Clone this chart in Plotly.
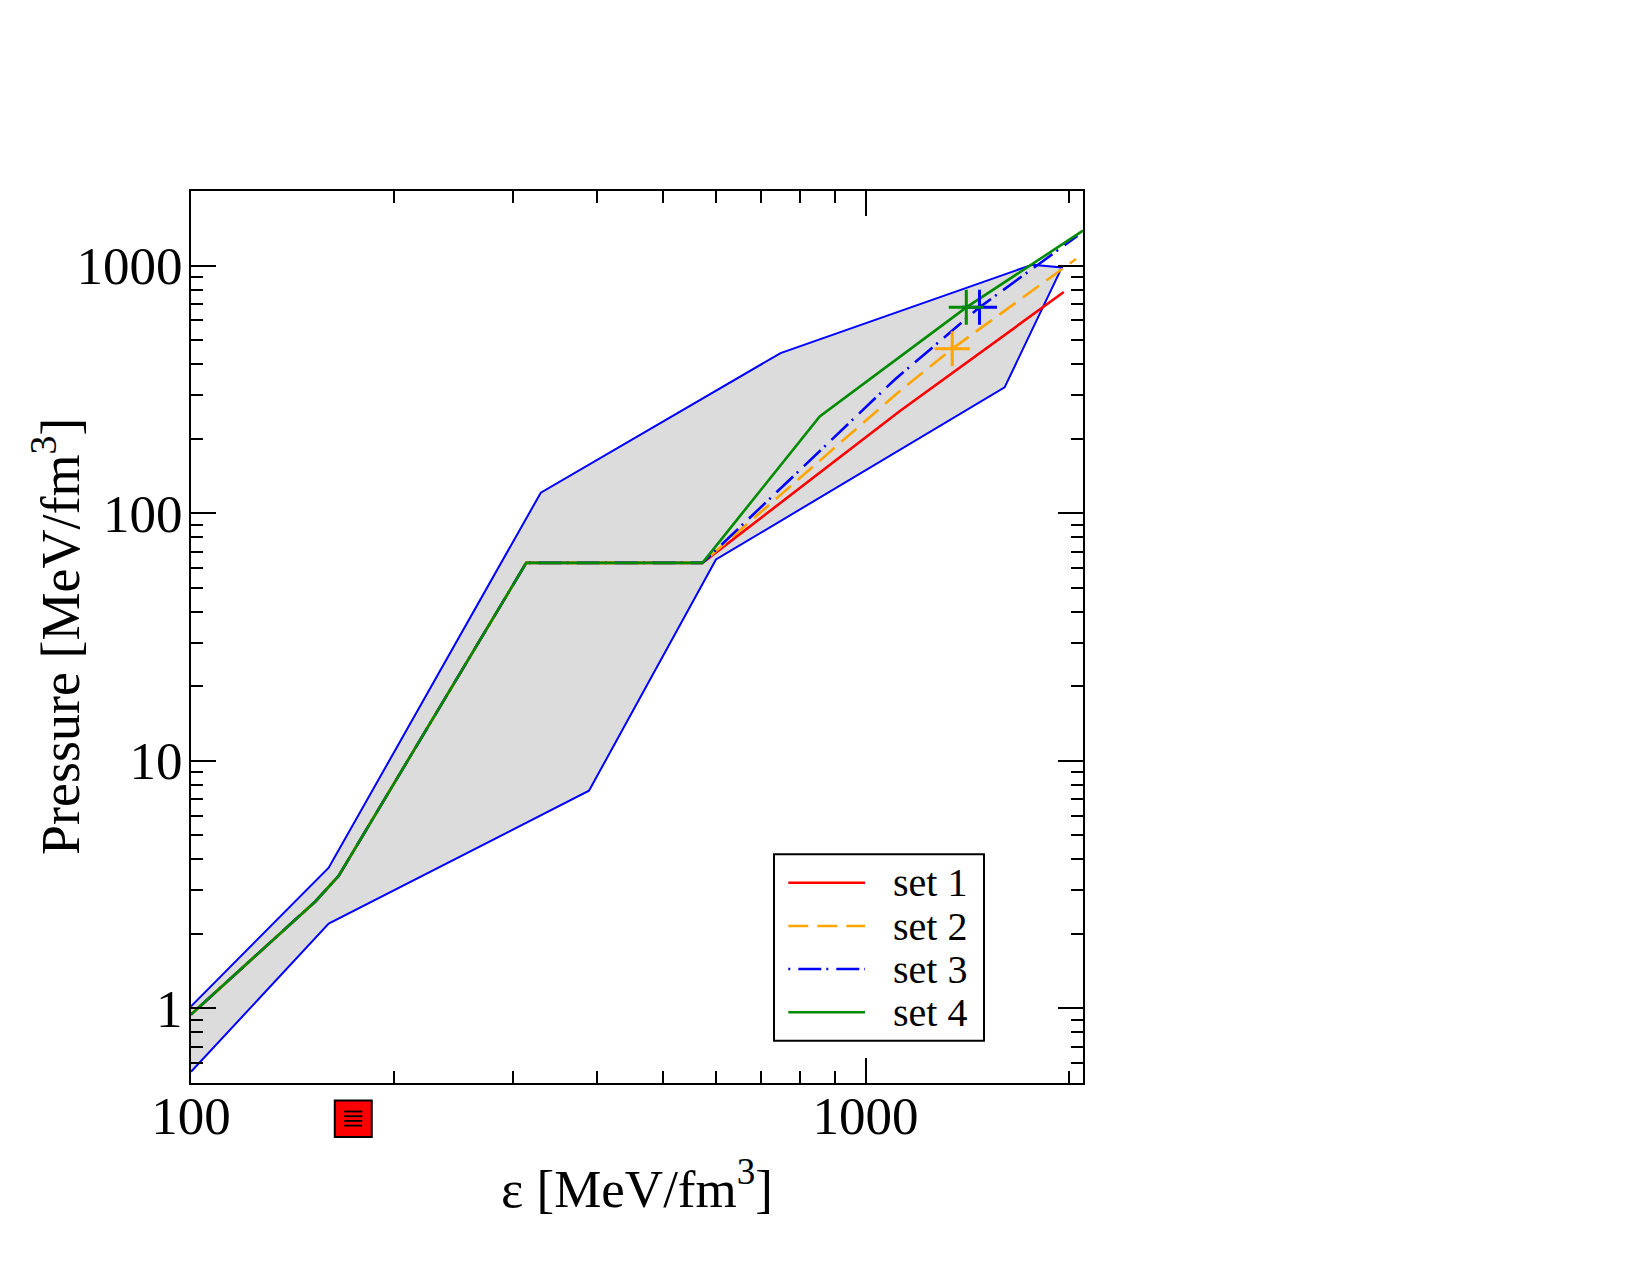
import plotly.graph_objects as go
import math

# ---------------- data ----------------
band_upper_x = [100, 160, 330, 748, 1766, 1954]
band_upper_y = [1.02, 3.70, 121, 443, 1008, 983]
band_lower_x = [100, 160, 389, 600, 1607, 1954]
band_lower_y = [0.555, 2.20, 7.57, 65.0, 322, 983]

common_x = [100, 153, 165.5, 314, 573]
common_y = [0.946, 2.71, 3.43, 63.0, 63.0]

set1_x = common_x + [1123, 1967]
set1_y = common_y + [258, 782]
set2_x = common_x + [1123, 1344, 1983, 2050]
set2_y = common_y + [311, 461, 992, 1063]
set3_x = common_x + [1104, 1475, 2026, 2060]
set3_y = common_y + [346, 678, 1272, 1317]
set4_x = common_x + [855, 1410, 2100]
set4_y = common_y + [246, 678, 1383]

mmax_x = [1344, 1475, 1410]
mmax_y = [461, 678, 678]
mmax_colors = ["#ffa500", "#0000ff", "#008b00"]

sat_x = 174          # red square marker below the x axis (energy density)

names = ["set 1", "set 2", "set 3", "set 4"]
colors = ["#ff0000", "#ffa500", "#0000ff", "#008b00"]
dashes = ["solid", "20px,9px", "2px,8px,23px,5px", "solid"]

x_major = [100, 1000]
x_minor = [200, 300, 400, 500, 600, 700, 800, 900, 2000]
y_major = [1, 10, 100, 1000]
y_minor = [0.6, 0.7, 0.8, 0.9, 2, 3, 4, 5, 6, 7, 8, 9, 20, 30, 40, 50, 60, 70, 80, 90,
           200, 300, 400, 500, 600, 700, 800, 900, 2000]

FONT = "Liberation Serif"

# ---------------- geometry ----------------
W, H = 1650, 1275
L, R, T, B = 191, 1083, 191, 1083
span = R - L
x_rng = [2, math.log10(2100)]
y_rng = [math.log10(0.5), math.log10(2000)]

fig = go.Figure()

# grey band
fig.add_trace(go.Scatter(
    x=band_upper_x + band_lower_x[::-1],
    y=band_upper_y + band_lower_y[::-1],
    mode="lines", fill="toself", fillcolor="#dcdcdc",
    line=dict(color="#0000ff", width=2), showlegend=False, hoverinfo="skip"))

series = [(set1_x, set1_y), (set2_x, set2_y), (set3_x, set3_y), (set4_x, set4_y)]
for (xs, ys), nm, c, d in zip(series, names, colors, dashes):
    fig.add_trace(go.Scatter(x=xs, y=ys, mode="lines", name=nm,
                             line=dict(color=c, width=2.6, dash=d), showlegend=False))

fig.add_trace(go.Scatter(
    x=mmax_x, y=mmax_y, mode="markers", showlegend=False,
    marker=dict(symbol="cross-thin", size=25, color=mmax_colors,
                line=dict(color=mmax_colors, width=3))))

axis_common = dict(
    type="log", showline=True, linecolor="black", linewidth=2, mirror="allticks",
    ticks="inside", ticklen=25, tickwidth=2, tickcolor="black",
    showgrid=False, zeroline=False,
    tickfont=dict(family=FONT, size=53, color="black"),
)

fig.update_xaxes(
    **axis_common, range=x_rng, tickmode="array", tickvals=x_major,
    ticktext=[str(v) for v in x_major], ticklabelstandoff=-15,
    minor=dict(tickmode="array", tickvals=x_minor, ticks="inside", ticklen=12,
               tickwidth=2, tickcolor="black", showgrid=False),
    title=dict(text="ε [MeV/fm<sup>3</sup>]", font=dict(family=FONT, size=53, color="black"),
               standoff=26),
)
fig.update_yaxes(
    **axis_common, range=y_rng, tickmode="array", tickvals=y_major,
    ticktext=[str(v) for v in y_major], ticklabelstandoff=-4,
    minor=dict(tickmode="array", tickvals=y_minor, ticks="inside", ticklen=12,
               tickwidth=2, tickcolor="black", showgrid=False),
)

def px(xp):
    return (xp - L) / span

def py(yp):
    return (B - yp) / span

def x_to_paper(v):
    return (math.log10(v) - x_rng[0]) / (x_rng[1] - x_rng[0])

shapes = []
# red square marker (x from the data axis scale, y below the plot)
cx = x_to_paper(sat_x)
half = 18.5 / span
sq_top, sq_bot = 1100.5, 1137
shapes.append(dict(type="rect", xref="paper", yref="paper",
                   x0=cx - half, x1=cx + half, y0=py(sq_bot), y1=py(sq_top),
                   line=dict(color="black", width=2), fillcolor="#ff0000", layer="above"))
for sy in [1111.5, 1116.2, 1120.9, 1125.6]:
    shapes.append(dict(type="line", xref="paper", yref="paper",
                       x0=cx - 9 / span, x1=cx + 9 / span, y0=py(sy), y1=py(sy),
                       line=dict(color="black", width=1.8), layer="above"))

# manual legend box
shapes.append(dict(type="rect", xref="paper", yref="paper",
                   x0=px(774), x1=px(984), y0=py(1040.7), y1=py(854.3),
                   line=dict(color="black", width=2), fillcolor="white", layer="above"))
annotations = []
row_y = [882.7, 926, 969, 1012.3]
for nm, c, d, ry in zip(names, colors, dashes, row_y):
    shapes.append(dict(type="line", xref="paper", yref="paper",
                       x0=px(788.3), x1=px(865), y0=py(ry), y1=py(ry),
                       line=dict(color=c, width=2.6, dash=d), layer="above"))
    annotations.append(dict(xref="paper", yref="paper", x=px(891), y=py(ry),
                            xanchor="left", yanchor="middle", text=nm, showarrow=False,
                            font=dict(family=FONT, size=40, color="black")))

# y-axis title
annotations.append(dict(xref="paper", yref="paper", x=px(56), y=py((T + B) / 2),
                        xanchor="center", yanchor="middle", textangle=-90,
                        text="Pressure [MeV/fm<sup>3</sup>]", showarrow=False,
                        font=dict(family=FONT, size=54, color="black")))

fig.update_layout(
    width=W, height=H,
    margin=dict(l=L, r=W - R, t=T, b=H - B, pad=0),
    plot_bgcolor="white", paper_bgcolor="white",
    shapes=shapes, annotations=annotations, showlegend=False,
    font=dict(family=FONT, color="black"),
)

fig.write_html("out.html")
